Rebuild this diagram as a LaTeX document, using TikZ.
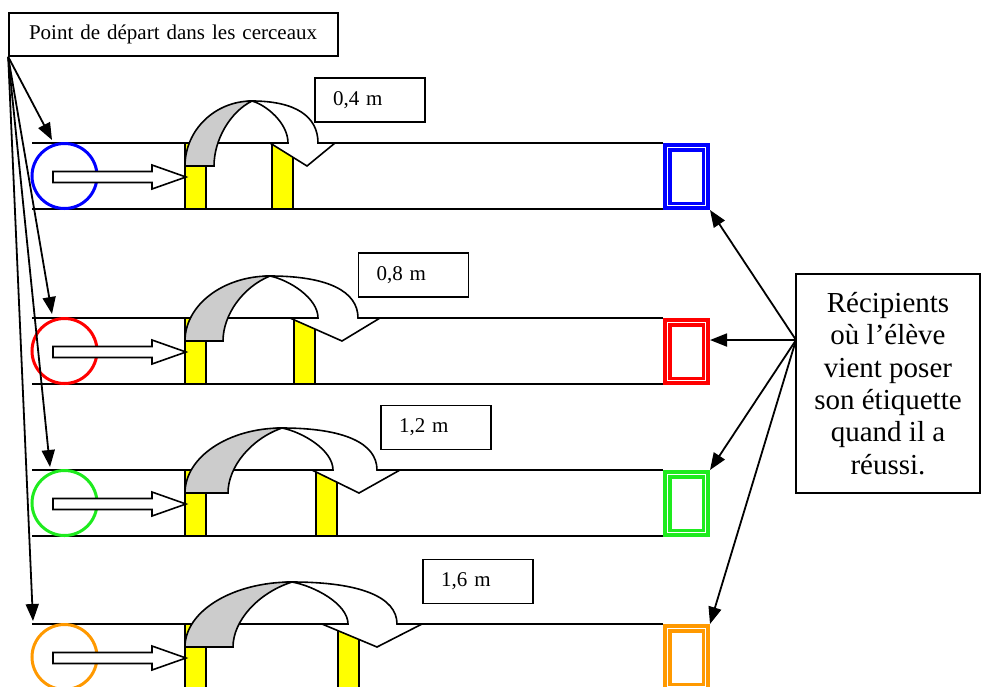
\documentclass[tikz,border=0pt]{standalone}
\usepackage{fontspec}
\setmainfont{Liberation Serif}
\usetikzlibrary{arrows.meta,calc}

\definecolor{laneblue}{RGB}{0,0,255}
\definecolor{lanered}{RGB}{255,0,0}
\definecolor{lanegreen}{RGB}{30,235,30}
\definecolor{laneorange}{RGB}{255,153,0}
\definecolor{postyellow}{RGB}{255,255,0}
\definecolor{bandgray}{RGB}{204,204,204}

\begin{document}
\begin{tikzpicture}[x=1pt,y=-1pt,line join=miter,
  edge/.style={line width=1.6pt},
  post/.style={fill=postyellow,draw=black,line width=1.6pt},
  hoop/.style={circle,minimum size=65pt,inner sep=0pt,line width=3pt},
  recip/.style={rectangle,minimum width=47pt,minimum height=67pt,inner sep=0pt,outer sep=0pt},
  lbl/.style={draw,line width=1.6pt,fill=white,minimum width=110pt,minimum height=44pt,
    text width=74pt,inner xsep=18pt,inner ysep=0pt,align=left,font=\fontsize{21}{24}\selectfont},
  pointer/.style={line width=1.8pt,-{Triangle[length=17pt,width=13pt]}}]

\path[use as bounding box] (0,0) rectangle (984,686);
\clip (0,0) rectangle (984,686);

% one lane per hoop: lines, posts, jump arrow, hoop, run arrow, container
\foreach \n/\yt/\px/\gi/\m/\ie/\oe/\rw/\tp/\lw/\col in {
  1/143/272/214/252/288/318/335/307/270/laneblue,
  2/318/294/223/270/318/358/380/342/290/lanered,
  3/470/316/228/282/333/377/400/359/312/lanegreen,
  4/624/338/233/292/348/397/422/377/322/laneorange}
{
  \draw[edge] (32,\yt) -- (663,\yt);
  \draw[edge] (32,\yt+66) -- (663,\yt+66);
  \draw[post] (185,\yt) rectangle (206,\yt+66);
  \draw[post] (\px,\yt) rectangle (\px+21,\yt+66);
  % front half of the jump arrow, with its head
  \draw[edge,fill=white] (\m,\yt-42)
     .. controls ({\m+0.4*(\ie-\m)},\yt-38) and (\ie,\yt-20) .. (\ie,\yt)
     -- (\lw,\yt) -- (\tp,\yt+23) -- (\rw,\yt) -- (\oe,\yt)
     .. controls (\oe,\yt-27) and ({\m+0.65*(\oe-\m)},\yt-42) .. (\m,\yt-42) -- cycle;
  % shaded back half
  \draw[edge,fill=bandgray] (185,\yt+23)
     .. controls (185,\yt-13) and ({\m-0.5523*(\m-185)},\yt-42) .. (\m,\yt-42)
     .. controls ({\m-0.58*(\m-\gi)},\yt-31) and (\gi,\yt-3) .. (\gi,\yt+23) -- cycle;
  \node[hoop,draw=\col] (c\n) at (64.5,\yt+33) {};
  \draw[edge,fill=white] (53,\yt+28.5) -- (152,\yt+28.5) -- (152,\yt+22) -- (186,\yt+34)
     -- (152,\yt+46) -- (152,\yt+39.5) -- (53,\yt+39.5) -- cycle;
  \node[recip,fill=\col] (r\n) at (686.5,\yt+33.5) {};
  \fill[white] ([shift={(8.5,8.5)}]r\n.north west) rectangle ([shift={(-8.5,-8.5)}]r\n.south east);
  \draw[white,line width=0.8pt] ([shift={(4.2,4.2)}]r\n.north west) rectangle ([shift={(-4.2,-4.2)}]r\n.south east);
}

% distance labels
\node[lbl] (d1) at (370,100) {0,4 m};
\node[lbl] (d2) at (413.5,275) {0,8 m};
\node[lbl] (d3) at (436,427.5) {1,2 m};
\node[lbl] (d4) at (478,581.5) {1,6 m};

% starting point caption
\node[lbl,minimum width=329pt,minimum height=43pt,text width=289pt,inner xsep=20pt] (start) at (173.5,34.5)
  {Point de départ dans les cerceaux};

% containers caption
\node[draw,line width=1.6pt,fill=white,minimum width=184pt,minimum height=219pt,inner sep=0pt,
  align=center,font=\fontsize{29}{32.3}\selectfont] (rbox) at (888,383.5)
  {Récipients\\ où l’élève\\ vient poser\\ son étiquette\\ quand il a\\ réussi.};

% pointers to the hoops
\coordinate (t1) at (52,140);
\coordinate (t2) at (52,314);
\coordinate (t3) at (50,467);
\coordinate (t4) at (33,621);
\foreach \k in {1,...,4} \draw[pointer] (start.south west) -- (t\k);

% pointers to the containers
\coordinate (rj) at (796,340);
\draw[pointer] (rj) -- (r1.south east);
\draw[pointer] (rj) -- (r2.east |- rj);
\draw[pointer] (rj) -- (r3.north east);
\draw[pointer] (rj) -- (r4.north east);
\end{tikzpicture}
\end{document}
